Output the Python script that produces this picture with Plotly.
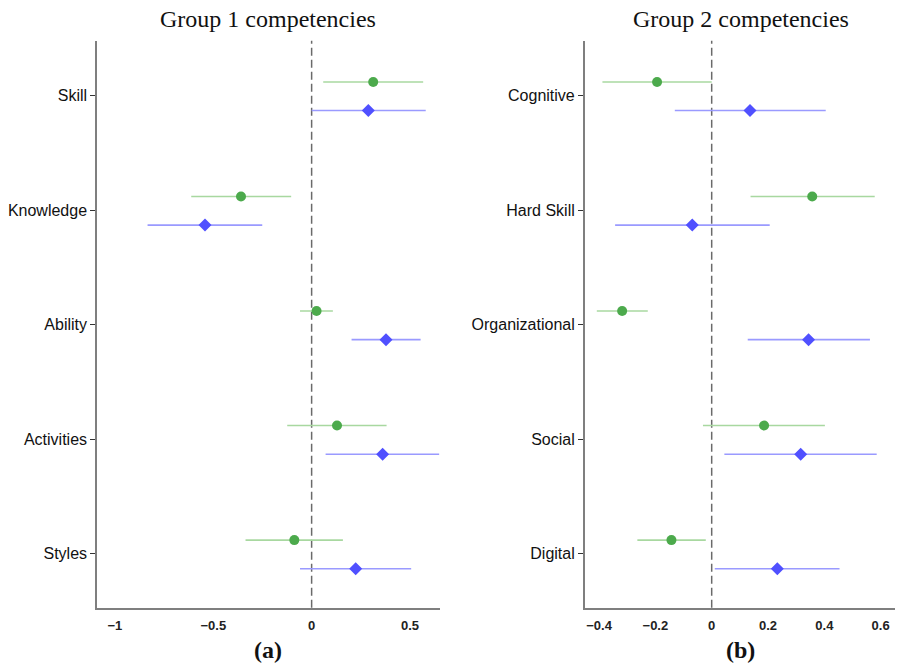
import plotly.graph_objects as go

# ---------------- data ----------------
cats1 = ["Skill", "Knowledge", "Ability", "Activities", "Styles"]
g1_green_est = [0.313, -0.359, 0.025, 0.129, -0.088]
g1_green_lo = [0.059, -0.612, -0.059, -0.124, -0.336]
g1_green_hi = [0.567, -0.104, 0.108, 0.381, 0.159]
g1_blue_est = [0.288, -0.542, 0.378, 0.361, 0.224]
g1_blue_lo = [0.000, -0.834, 0.203, 0.071, -0.059]
g1_blue_hi = [0.580, -0.251, 0.554, 0.649, 0.506]

cats2 = ["Cognitive", "Hard Skill", "Organizational", "Social", "Digital"]
g2_green_est = [-0.194, 0.357, -0.318, 0.186, -0.143]
g2_green_lo = [-0.388, 0.138, -0.408, -0.031, -0.264]
g2_green_hi = [0.000, 0.579, -0.227, 0.402, -0.021]
g2_blue_est = [0.136, -0.069, 0.344, 0.316, 0.233]
g2_blue_lo = [-0.131, -0.343, 0.128, 0.045, 0.011]
g2_blue_hi = [0.405, 0.206, 0.562, 0.586, 0.454]

x1_ticks = [-1, -0.5, 0, 0.5]
x1_ticktext = ["\u22121", "\u22120.5", "0", "0.5"]
x2_ticks = [-0.4, -0.2, 0, 0.2, 0.4, 0.6]
x2_ticktext = ["\u22120.4", "\u22120.2", "0", "0.2", "0.4", "0.6"]

# ---------------- styles ----------------
GREEN_MK = "#4caa4c"
GREEN_LN = "#a8d8a0"
BLUE_MK = "#5050ff"
BLUE_LN = "#9a9aff"
AXIS_COL = "#7f7f7f"
OFF_G = -0.12
OFF_B = 0.13

fig = go.Figure()


def add_series(est, lo, hi, offset, mcol, lcol, symbol, size, xa, ya):
    ys = [i + 1 + offset for i in range(len(est))]
    fig.add_trace(go.Scatter(
        x=est, y=ys, mode="markers",
        marker=dict(color=mcol, size=size, symbol=symbol, line=dict(width=0)),
        error_x=dict(type="data", symmetric=False,
                     array=[h - e for h, e in zip(hi, est)],
                     arrayminus=[e - l for e, l in zip(est, lo)],
                     color=lcol, thickness=1.6, width=0),
        xaxis=xa, yaxis=ya, showlegend=False, cliponaxis=True))


add_series(g1_green_est, g1_green_lo, g1_green_hi, OFF_G, GREEN_MK, GREEN_LN, "circle", 10, "x", "y")
add_series(g1_blue_est, g1_blue_lo, g1_blue_hi, OFF_B, BLUE_MK, BLUE_LN, "diamond", 10, "x", "y")
add_series(g2_green_est, g2_green_lo, g2_green_hi, OFF_G, GREEN_MK, GREEN_LN, "circle", 10, "x2", "y2")
add_series(g2_blue_est, g2_blue_lo, g2_blue_hi, OFF_B, BLUE_MK, BLUE_LN, "diamond", 10, "x2", "y2")

# zero reference lines
for xr, yr in (("x", "y domain"), ("x2", "y2 domain")):
    fig.add_shape(type="line", xref=xr, yref=yr, x0=0, x1=0, y0=0, y1=1,
                  line=dict(color="#6a6a6a", width=1.5, dash="8px,4px"), layer="below")

ydom = [1 - 607.7 / 664, 1 - 40.7 / 664]
yrange = [5.47, 0.52]
xtickfont = dict(family="Liberation Sans, Arial", size=13, color="#222", weight="bold")
ytickfont = dict(family="Liberation Sans, Arial", size=16, color="#111")

common_x = dict(showline=True, linecolor=AXIS_COL, linewidth=1.5, showgrid=False,
                zeroline=False, ticks="outside", ticklen=5, tickcolor="rgba(0,0,0,0)",
                tickfont=xtickfont)
common_y = dict(showline=True, linecolor=AXIS_COL, linewidth=1.5, showgrid=False,
                zeroline=False, ticks="outside", ticklen=5, tickcolor="#333", tickwidth=1.2,
                tickfont=ytickfont, range=yrange, tickvals=[1, 2, 3, 4, 5])

fig.update_layout(
    width=898, height=664, margin=dict(l=0, r=0, t=0, b=0),
    paper_bgcolor="white", plot_bgcolor="white",
    xaxis=dict(domain=[97 / 898, 439.5 / 898], range=[-1.091, 0.65],
               tickvals=x1_ticks, ticktext=x1_ticktext, anchor="y", **common_x),
    yaxis=dict(domain=ydom, ticktext=cats1, anchor="x", **common_y),
    xaxis2=dict(domain=[584.7 / 898, 895 / 898], range=[-0.451, 0.651],
                tickvals=x2_ticks, ticktext=x2_ticktext, anchor="y2", **common_x),
    yaxis2=dict(domain=ydom, ticktext=cats2, anchor="x2", **common_y),
)

title_font = dict(family="Liberation Serif, Times New Roman", size=24, color="#111")
lab_font = dict(family="Liberation Serif, Times New Roman", size=24, color="#111", weight="bold")
fig.add_annotation(text="Group 1 competencies", x=268 / 898, y=1 - 19 / 664, xref="paper", yref="paper",
                   showarrow=False, font=title_font, xanchor="center", yanchor="middle")
fig.add_annotation(text="Group 2 competencies", x=741 / 898, y=1 - 19 / 664, xref="paper", yref="paper",
                   showarrow=False, font=title_font, xanchor="center", yanchor="middle")
fig.add_annotation(text="(a)", x=268 / 898, y=1 - 650 / 664, xref="paper", yref="paper",
                   showarrow=False, font=lab_font, xanchor="center", yanchor="middle")
fig.add_annotation(text="(b)", x=740 / 898, y=1 - 650 / 664, xref="paper", yref="paper",
                   showarrow=False, font=lab_font, xanchor="center", yanchor="middle")

fig.write_html("out.html")
